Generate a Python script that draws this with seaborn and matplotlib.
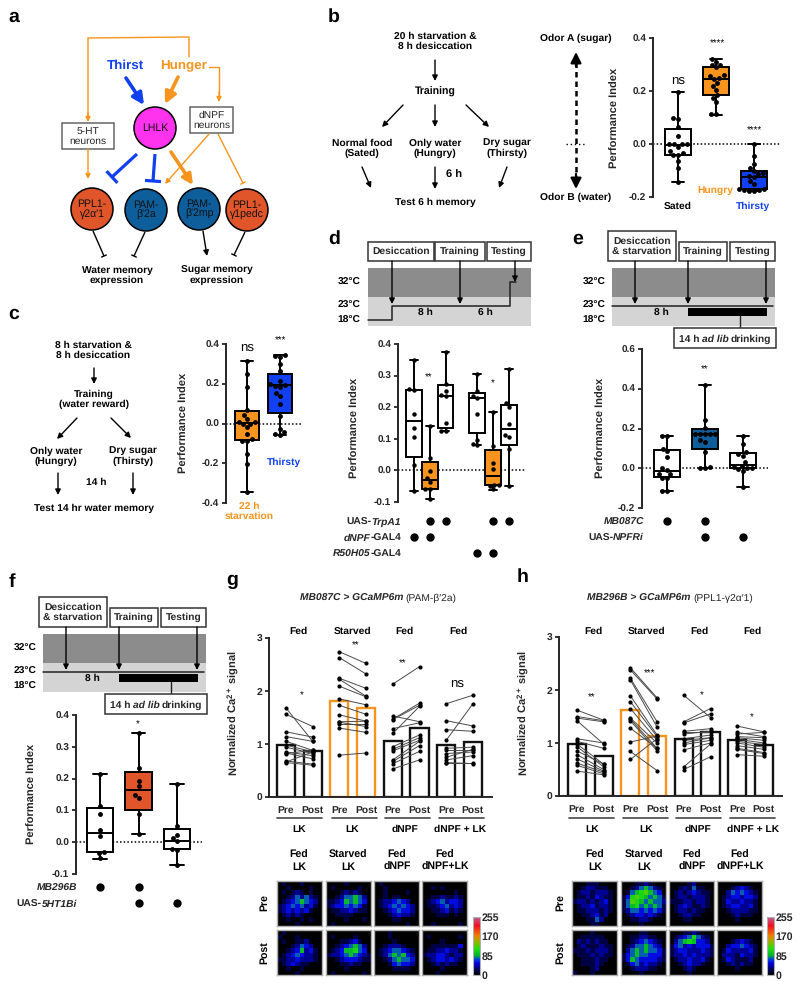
import warnings

import matplotlib.pyplot as plt
import numpy as np
import pandas as pd
import seaborn as sns
from matplotlib.cm import ScalarMappable
from matplotlib.colors import LinearSegmentedColormap, Normalize
from matplotlib.patches import Circle, Rectangle
from matplotlib.transforms import blended_transform_factory

warnings.simplefilter("ignore")

ORANGE = "#F7941D"
BLUE = "#1140F0"
DEEP = "#0F5E9C"
RED = "#E0562A"

# box panels: [min, q1, median, q3, max] and the single flies' points
b_groups = ["Sated", "Hungry", "Thirsty"]
b_boxes = [[-0.145, -0.04, -0.005, 0.055, 0.195], [0.11, 0.185, 0.245, 0.29, 0.32], [-0.178, -0.17, -0.125, -0.10, 0.0]]
b_points = [
    [0.195, 0.098, 0.095, 0.065, 0.03, 0.0, 0.0, 0.0, 0.0, -0.01, -0.025, -0.035, -0.04, -0.04, -0.065, -0.09, -0.145],
    [0.32, 0.31, 0.30, 0.30, 0.29, 0.26, 0.255, 0.25, 0.245, 0.23, 0.22, 0.205, 0.185, 0.175, 0.16, 0.113, 0.112],
    [0.0, -0.045, -0.075, -0.09, -0.10, -0.11, -0.115, -0.12, -0.125, -0.14, -0.15, -0.17, -0.17, -0.175, -0.175, -0.178, -0.178],
]
b_colors = ["white", ORANGE, BLUE]

c_groups = ["22 h", "Thirsty"]
c_boxes = [[-0.345, -0.085, 0.003, 0.062, 0.315], [-0.06, 0.055, 0.195, 0.25, 0.345]]
c_points = [
    [0.315, 0.25, 0.185, 0.07, 0.045, 0.025, 0.01, 0.01, 0.0, -0.005, -0.02, -0.055, -0.08, -0.09, -0.09, -0.155, -0.205, -0.345],
    [0.345, 0.34, 0.335, 0.30, 0.265, 0.215, 0.2, 0.195, 0.19, 0.185, 0.155, 0.14, 0.10, 0.04, -0.03, -0.045, -0.055, -0.06],
]
c_colors = [ORANGE, BLUE]

d_groups = ["d1", "d2", "d3", "gap", "d4", "d5", "d6"]
d_boxes = [
    [-0.065, 0.042, 0.157, 0.255, 0.35],
    [-0.092, -0.06, -0.03, 0.028, 0.14],
    [0.125, 0.133, 0.237, 0.27, 0.375],
    [0.08, 0.117, 0.228, 0.245, 0.305],
    [-0.062, -0.047, -0.018, 0.063, 0.185],
    [-0.05, 0.08, 0.13, 0.208, 0.322],
]
d_points = [
    [0.35, 0.258, 0.255, 0.18, 0.135, 0.107, 0.018, -0.065],
    [0.14, 0.04, -0.003, -0.025, -0.037, -0.06, -0.06, -0.092],
    [0.375, 0.275, 0.252, 0.24, 0.235, 0.15, 0.125, 0.125],
    [0.305, 0.25, 0.235, 0.23, 0.18, 0.095, 0.082, 0.08],
    [0.185, 0.078, 0.025, 0.005, -0.045, -0.045, -0.05, -0.06],
    [0.322, 0.212, 0.2, 0.147, 0.112, 0.105, 0.067, -0.05],
]
d_colors = ["white", ORANGE, "white", "white", ORANGE, "white"]
d_trpa1 = [0, 1, 1, 0, 0, 1, 1]
d_dnpf = [1, 1, 0, 0, 0, 0, 0]
d_r50 = [0, 0, 0, 0, 1, 1, 0]

e_groups = ["e1", "e2", "e3"]
e_boxes = [[-0.115, -0.045, -0.012, 0.09, 0.16], [0.0, 0.095, 0.17, 0.2, 0.42], [-0.095, 0.0, 0.018, 0.075, 0.16]]
e_points = [
    [0.16, 0.16, 0.097, 0.085, 0.058, 0.0, -0.01, -0.03, -0.03, -0.05, -0.05, -0.115, -0.115],
    [0.42, 0.245, 0.205, 0.17, 0.17, 0.17, 0.17, 0.17, 0.14, 0.13, 0.08, 0.005, 0.0, 0.0],
    [0.16, 0.123, 0.08, 0.07, 0.06, 0.03, 0.01, 0.005, 0.0, 0.0, -0.005, -0.015, -0.095],
]
e_colors = ["white", DEEP, "white"]
e_mb087c = [1, 1, 0]
e_npfri = [0, 1, 1]

f_groups = ["f1", "f2", "f3"]
f_boxes = [[-0.052, -0.03, 0.03, 0.107, 0.216], [0.027, 0.102, 0.163, 0.22, 0.343], [-0.072, -0.022, 0.005, 0.042, 0.183]]
f_points = [
    [0.216, 0.115, 0.09, 0.038, 0.02, -0.03, -0.035, -0.05],
    [0.343, 0.232, 0.192, 0.176, 0.15, 0.14, 0.088, 0.027],
    [0.183, 0.05, 0.023, 0.013, 0.005, -0.022, -0.025, -0.072],
]
f_colors = ["white", RED, "white"]
f_mb296b = [1, 1, 0]
f_5ht = [0, 1, 1]

# imaging panels: bar heights and paired pre/post values
bar_ticks = ["Pre", "Post"] * 4
g_bars = [0.99, 0.86, 1.82, 1.67, 1.05, 1.30, 0.98, 1.03]
g_lk_pre = [1.68, 1.56, 1.23, 1.14, 1.05, 0.98, 0.94, 0.85, 0.83, 0.82, 0.68, 0.66, 0.65]
g_lk_post = [1.05, 1.33, 1.13, 1.05, 0.88, 0.85, 0.82, 0.78, 0.72, 0.88, 0.62, 0.85, 0.60]
g_st_pre = [2.74, 2.63, 2.24, 2.22, 2.09, 1.85, 1.73, 1.55, 1.42, 1.41, 1.38, 1.30, 0.79]
g_st_post = [2.52, 2.32, 2.05, 1.90, 1.89, 1.74, 1.56, 1.43, 1.43, 1.33, 1.38, 1.22, 0.83]
g_np_pre = [2.13, 1.53, 1.47, 1.46, 1.29, 1.20, 0.95, 0.90, 0.87, 0.70, 0.67, 0.63, 0.53]
g_np_post = [2.46, 1.42, 1.77, 1.73, 1.40, 1.71, 1.17, 1.12, 1.07, 1.05, 0.97, 0.86, 0.70]
g_nl_pre = [1.76, 1.44, 1.27, 1.07, 0.92, 0.88, 0.82, 0.75, 0.70, 0.65, 0.65]
g_nl_post = [1.92, 1.34, 1.24, 1.76, 0.94, 0.88, 0.85, 0.90, 0.78, 0.65, 0.63]

h_bars = [0.98, 0.75, 1.62, 1.13, 1.07, 1.21, 1.06, 0.96]
h_lk_pre = [1.62, 1.50, 1.47, 1.42, 1.08, 1.03, 0.98, 0.93, 0.85, 0.78, 0.70, 0.62, 0.58, 0.47]
h_lk_post = [1.43, 1.42, 1.40, 0.98, 1.00, 0.90, 0.60, 0.55, 0.60, 0.50, 0.47, 0.45, 0.42, 0.40]
h_st_pre = [2.42, 2.38, 2.22, 2.19, 1.89, 1.78, 1.65, 1.47, 1.45, 1.42, 1.28, 1.02, 0.84, 0.69]
h_st_post = [1.85, 1.83, 1.40, 1.30, 1.15, 1.12, 1.05, 1.00, 0.90, 0.85, 0.90, 1.13, 0.48, 1.08]
h_np_pre = [1.90, 1.40, 1.38, 1.22, 1.20, 1.17, 1.08, 1.05, 1.00, 0.97, 0.87, 0.55, 0.50]
h_np_post = [1.48, 1.65, 1.55, 1.27, 1.20, 1.22, 1.15, 1.10, 1.10, 1.05, 1.00, 0.98, 0.74]
h_nl_pre = [1.32, 1.20, 1.17, 1.12, 1.10, 1.07, 1.03, 1.00, 0.95, 0.90, 0.88, 0.78]
h_nl_post = [1.21, 1.12, 1.20, 1.10, 1.05, 1.00, 0.97, 0.92, 0.88, 0.82, 0.80, 0.75]

# imaging thumbnails, coarse intensity read by eye, 0 (black) upwards
g_img_pre = [
    ["0100010000", "0010000100", "0101210100", "0012424210", "0123454320", "1234342310", "1232323100", "0121210000", "0010010100", "0000100000"],
    ["0000100000", "0100000100", "0001212100", "0012445420", "1123545430", "1233434310", "0112232110", "0011110000", "0000100010", "0100000000"],
    ["0100000000", "0010000000", "0010000100", "0010110000", "0122343200", "0123434320", "0012343320", "0001232210", "0000110000", "0000000100"],
    ["0000000000", "0010100000", "0000000100", "0011211210", "0123423320", "0112342320", "0011231210", "0001110100", "0000000000", "0010000010"],
]
g_img_post = [
    ["0100000000", "1000100000", "0100112000", "0001243200", "0012352310", "0123432210", "1122322210", "0123211000", "0010010000", "0000100000"],
    ["0000000000", "0100001000", "0001123100", "0012345420", "0123556430", "1223454321", "0012333211", "0001121100", "0000100000", "0100000010"],
    ["0001000000", "0001000000", "0000100000", "0012221000", "0123443210", "0124545320", "0012454430", "0001343320", "0000111100", "0000000000"],
    ["0000000000", "0100000010", "0000100000", "0011111130", "0112232210", "1223321220", "0123323210", "0012121100", "0000100000", "0001000000"],
]
h_img_pre = [
    ["0001110000", "0012211100", "0122122210", "0112132110", "1221212310", "0122312210", "0112221210", "0011231200", "0001142000", "0000110000"],
    ["0001121000", "0012454210", "0145675430", "1367654541", "1476545442", "1456454541", "1244343431", "0123323210", "0011221000", "0000100000"],
    ["0000120000", "0012141100", "0121232110", "0122122210", "1112212210", "0123211210", "0122121100", "0012211000", "0001100000", "0000000000"],
    ["0000000000", "0001232100", "0024343210", "0123323320", "0132232210", "0123322310", "0012222110", "0001211100", "0000100000", "0000000000"],
]
h_img_post = [
    ["0000100000", "0011111000", "0212121100", "0121112110", "1112122210", "0111212110", "0011121100", "0011121000", "0000120000", "1000100000"],
    ["0000110000", "0011221100", "0012343210", "0124454320", "0245454431", "1345443331", "1354333321", "0134232210", "0012221100", "0000100000"],
    ["0001121000", "0123464210", "0245653320", "1342323331", "1233222321", "1223232221", "0122322310", "0012322100", "0001210000", "0000100000"],
    ["0000000000", "0000000000", "0001232100", "0023343210", "0132222310", "0222132210", "0132111200", "0012121100", "0000100000", "0000000000"],
]
img_titles = ["Fed\nLK", "Starved\nLK", "Fed\ndNPF", "Fed\ndNPF+LK"]

sns.set_style("ticks")
plt.rcParams["font.family"] = ["Liberation Sans", "DejaVu Sans"]
plt.rcParams["font.weight"] = "bold"
plt.rcParams["axes.labelweight"] = "bold"
plt.rcParams["text.hinting"] = "no_hinting"
plt.rcParams["mathtext.fontset"] = "custom"
plt.rcParams["mathtext.rm"] = "Liberation Sans:bold"
plt.rcParams["mathtext.it"] = "Liberation Sans:italic:bold"
plt.rcParams["mathtext.bf"] = "Liberation Sans:bold"

W, H = 800, 990
fig = plt.figure(figsize=(W / 100, H / 100), dpi=100)
ov = fig.add_axes([0, 0, 1, 1], zorder=10)
ov.set_xlim(0, W)
ov.set_ylim(H, 0)
ov.axis("off")
ov.patch.set_alpha(0)
renderer = fig.canvas.get_renderer()


def ax_px(x0, y0, x1, y1):
    return fig.add_axes([x0 / W, 1 - y1 / H, (x1 - x0) / W, (y1 - y0) / H])


def txt(x, y, s, size=7.4, color="black", weight="bold", **kw):
    kw.setdefault("ha", "center")
    kw.setdefault("va", "center")
    return ov.text(x, y, s, fontsize=size, color=color, fontweight=weight, **kw)


def rich(x, y, parts, size=7.4, align="right", zorder=4):
    # one line out of several styled pieces: (text, style, weight, gap before)
    made = []
    total = 0
    for s, style, weight, gap in parts:
        t = ov.text(0, y + 3.5, s, fontsize=size, fontstyle=style, fontweight=weight, ha="left", va="baseline",
                    zorder=zorder)
        w = t.get_window_extent(renderer).width
        made.append((t, gap, w))
        total += gap + w
    cur = x - total if align == "right" else x - total / 2
    for t, gap, w in made:
        cur += gap
        t.set_x(cur)
        cur += w


def arrow(x0, y0, x1, y1, color="black", lw=1.0, scale=8):
    ov.annotate("", xy=(x1, y1), xytext=(x0, y0),
                arrowprops=dict(arrowstyle="-|>", color=color, lw=lw, mutation_scale=scale, shrinkA=0, shrinkB=0))


def tbar(x0, y0, x1, y1, half, color="black", lw=1.0):
    ov.plot([x0, x1], [y0, y1], color=color, lw=lw, solid_capstyle="butt")
    d = np.array([x1 - x0, y1 - y0], dtype=float)
    d = d / np.hypot(*d)
    ov.plot([x1 - d[1] * half, x1 + d[1] * half], [y1 + d[0] * half, y1 - d[0] * half],
            color=color, lw=lw, solid_capstyle="butt")


def box_label(x0, y0, x1, y1, s, size=7.4, weight="bold", ec="#333333", lw=1.1):
    ov.add_patch(Rectangle((x0, y0), x1 - x0, y1 - y0, fc="white", ec=ec, lw=lw, zorder=3))
    if s:
        ov.text((x0 + x1) / 2, (y0 + y1) / 2, s, fontsize=size, fontweight=weight, ha="center", va="center",
                zorder=4, linespacing=1.05)


def node(x, y, r, s, fc, color="#111111"):
    ov.add_patch(Circle((x, y), r, fc=fc, ec="black", lw=1.1, zorder=3))
    ov.text(x, y, s, fontsize=7.6, fontweight="normal", color=color, ha="center", va="center", zorder=4,
            linespacing=1.05)


def box_panel(pos, groups, boxes, points, colors, ylim, yticks, first, step, width, label, label_at,
              dot=3.5, dec=1):
    ax = ax_px(*pos)
    real = [g for g in groups if g != "gap"]
    box_df = pd.DataFrame([(g, v) for g, b in zip(real, boxes) for v in b], columns=["group", "value"])
    pts_df = pd.DataFrame([(g, v) for g, p in zip(real, points) for v in p], columns=["group", "value"])
    ax.axhline(0, color="black", ls=(0, (1, 1.4)), lw=1.1, zorder=0.5)
    sns.boxplot(data=box_df, x="group", y="value", order=groups, hue="group", palette=dict(zip(real, colors)),
                whis=(0, 100), width=width, linewidth=1.4, linecolor="black", fliersize=0, saturation=1,
                legend=False, ax=ax)
    sns.swarmplot(data=pts_df, x="group", y="value", order=groups, color="black", size=dot, ax=ax, zorder=5)
    ax.set_xlim((pos[0] - first) / step, (pos[2] - first) / step)
    ax.set_ylim(*ylim)
    ax.set_yticks(yticks, [f"{t:.{dec}f}" for t in yticks])
    ax.set_xticks([])
    ax.set_xlabel("")
    ax.patch.set_alpha(0)
    for side in ["top", "right", "bottom"]:
        ax.spines[side].set_visible(False)
    ax.spines["left"].set_linewidth(1.4)
    ax.tick_params(axis="y", labelsize=7.2, width=1.3, length=3, pad=2)
    ax.set_ylabel(label, fontsize=8, fontweight="bold")
    ax.yaxis.set_label_coords(label_at[0] + 5, label_at[1], transform=ov.transData)
    return ax


def geno_row(ax, flags, y, parts, right):
    trans = blended_transform_factory(ax.transData, ov.transData)
    xs = [i for i, f in enumerate(flags) if f]
    ax.scatter(xs, [y] * len(xs), s=36, color="black", transform=trans, clip_on=False, linewidths=0)
    rich(right, y, parts)


def bar_panel(pos, bars, pairs, first, step, ylabel_at):
    ax = ax_px(*pos)
    names = [f"{i}" for i in range(8)]
    pal = {n: (ORANGE if i in (2, 3) else "#111111") for i, n in enumerate(names)}
    sns.barplot(x=names, y=bars, hue=names, palette=pal, fill=False, width=0.68, linewidth=1.7, saturation=1,
                legend=False, ax=ax, err_kws={"linewidth": 0})
    rows = []
    uid = 0
    for k, (pre, post) in enumerate(pairs):
        for a, b in zip(pre, post):
            rows.append((uid, 2 * k, a))
            rows.append((uid, 2 * k + 1, b))
            uid += 1
    df = pd.DataFrame(rows, columns=["fly", "pos", "value"])
    sns.lineplot(data=df, x="pos", y="value", units="fly", estimator=None, color="#4a4a4a", lw=0.7, ax=ax)
    sns.scatterplot(data=df, x="pos", y="value", color="black", s=9, linewidth=0, ax=ax, zorder=4)
    ax.set_xlim((pos[0] - first) / step, (pos[2] - first) / step)
    ax.set_ylim(0, 3)
    ax.set_xticks(range(8), bar_ticks)
    ax.set_yticks([0, 1, 2, 3])
    ax.set_xlabel("")
    ax.patch.set_alpha(0)
    for side in ["top", "right"]:
        ax.spines[side].set_visible(False)
    ax.spines["left"].set_linewidth(1.4)
    ax.spines["bottom"].set_linewidth(1.4)
    ax.tick_params(axis="x", length=0, labelsize=7.4, pad=6)
    ax.tick_params(axis="y", labelsize=7.4, width=1.3, length=3, pad=2)
    ax.set_ylabel("Normalized Ca$^{2+}$ signal", fontsize=8, fontweight="bold")
    ax.yaxis.set_label_coords(ylabel_at[0] + 5, ylabel_at[1], transform=ov.transData)
    return ax


img_cmap = LinearSegmentedColormap.from_list(
    "calcium",
    [(0, "#000000"), (0.10, "#000060"), (0.2, "#0000e0"), (0.27, "#0040e0"), (0.33, "#00b030"), (0.45, "#20e010"),
     (0.58, "#a0b000"), (0.68, "#f08000"), (0.85, "#f01020"), (1, "#c06090")])


def images(cols, rows_y, pre, post, titles_x, row_x, bar_x):
    for r, (imgs, (y0, y1)) in enumerate(zip([pre, post], rows_y)):
        for c, (x0, x1) in enumerate(cols):
            ax = ax_px(x0, y0, x1, y1)
            arr = np.array([[int(ch) for ch in line] for line in imgs[c]])
            sns.heatmap(arr, ax=ax, cmap=img_cmap, vmin=0, vmax=14, cbar=False, xticklabels=False, yticklabels=False)
            for sp in ax.spines.values():
                sp.set_visible(True)
                sp.set_color("#b0b0b0")
                sp.set_linewidth(1)
    for x, s in zip(titles_x, img_titles):
        txt(x, 861, s, size=7.6, linespacing=1.15)
    txt(row_x, 903, "Pre", rotation=90, size=7.6)
    txt(row_x, 953, "Post", rotation=90, size=7.6)
    cax = ax_px(bar_x, 917, bar_x + 7, 975)
    cb = fig.colorbar(ScalarMappable(Normalize(0, 255), img_cmap), cax=cax, ticks=[0, 85, 170, 255])
    cb.outline.set_edgecolor("#b0b0b0")
    cax.tick_params(length=0, labelsize=7.6, pad=1)


# panel letters
for x, y, s in [(14, 17, "a"), (334, 17, "b"), (14, 314, "c"), (334, 239, "d"), (578, 239, "e"),
                (12, 582, "f"), (232, 580, "g"), (523, 577, "h")]:
    txt(x, y, s, size=14)

# a: circuit
ov.plot([189, 189, 88, 88], [57, 37, 38, 118], color=ORANGE, lw=1)
arrow(88, 112, 88, 122, ORANGE, 1, 7)
txt(125, 66, "Thirst", size=9.6, color=BLUE)
txt(184, 66, "Hunger", size=9.6, color=ORANGE)
arrow(126, 78, 144, 105, BLUE, 2.6, 17)
arrow(178, 77, 165, 104, ORANGE, 2.6, 17)
ov.plot([209, 219, 219], [67, 67, 95], color=ORANGE, lw=1)
arrow(219, 92, 219, 102, ORANGE, 1, 7)
box_label(62, 123, 114, 149, "5-HT\nneurons", weight="normal", ec="#666666")
box_label(190, 107, 233, 133, "dNPF\nneurons", weight="normal", ec="#666666")
node(155, 128, 21, "LHLK", "#FF33EE")
arrow(88, 149, 88, 179, ORANGE, 1, 7)
tbar(137, 154, 112, 177, 8, BLUE, 2.3)
tbar(155, 154, 153, 181, 8, BLUE, 2.3)
arrow(171, 152, 193, 185, ORANGE, 2.6, 15)
arrow(209, 134, 165, 184, ORANGE, 1, 7)
tbar(218, 134, 243, 183, 3, ORANGE, 1)
node(92, 209, 21, "PPL1-\nγ2α′1", RED)
node(146, 210, 21, "PAM-\nβ′2a", DEEP)
node(199, 209, 21, "PAM-\nβ′2mp", DEEP)
node(247, 210, 21, "PPL1-\nγ1pedc", RED)
tbar(93, 231, 104, 256, 3)
tbar(145, 232, 134, 256, 3)
arrow(203, 231, 207, 256, "black", 1, 8)
tbar(245, 232, 234, 255, 3)
txt(117, 275, "Water memory\nexpression", linespacing=1.1)
txt(217, 275, "Sugar memory\nexpression", linespacing=1.1)

# b: protocol and plot
txt(435, 41, "20 h starvation &\n8 h desiccation", linespacing=1.05)
arrow(435, 60, 435, 81)
txt(435, 92, "Training", size=7.6)
arrow(403, 105, 382, 127)
arrow(435, 105, 435, 127)
arrow(466, 105, 489, 127)
for x, s in [(362, "Normal food\n(Sated)"), (435, "Only water\n(Hungry)"), (507, "Dry sugar\n(Thirsty)")]:
    txt(x, 148, s, linespacing=1.1)
arrow(362, 167, 371, 188)
arrow(435, 167, 435, 189)
arrow(507, 167, 499, 188)
txt(454, 175, "6 h", size=8)
txt(435, 202, "Test 6 h memory")
txt(576, 38, "Odor A (sugar)")
txt(576, 197, "Odor B (water)")
ov.plot([576, 576], [62, 178], color="black", lw=1.8, ls=(0, (2.2, 1.6)))
arrow(576, 66, 576, 52, "black", 1.6, 16)
arrow(576, 174, 576, 189, "black", 1.6, 16)
ov.plot([566, 586], [144, 144], color="black", lw=1, ls=(0, (1, 2)))
box_panel((653, 38, 780, 197), b_groups, b_boxes, b_points, b_colors, (-0.2, 0.4), [-0.2, 0, 0.2, 0.4],
          678, 38, 0.68, "Performance Index", (615, 118))
txt(678, 206, "Sated")
txt(715, 191, "Hungry", color=ORANGE)
txt(753, 206, "Thirsty", color=BLUE)
txt(678, 81, "ns", size=9.5, weight="normal")
txt(717, 44, "****", size=7, weight="normal")
txt(754, 131, "****", size=7, weight="normal")

# c: protocol and plot
txt(93, 350, "8 h starvation &\n8 h desiccation", linespacing=1.05)
arrow(94, 368, 94, 384)
txt(94, 399, "Training\n(water reward)", linespacing=1.05)
arrow(77, 418, 57, 439)
arrow(111, 418, 131, 438)
txt(56, 456, "Only water\n(Hungry)", linespacing=1.1)
txt(133, 456, "Dry sugar\n(Thirsty)", linespacing=1.1)
arrow(58, 473, 58, 495)
arrow(133, 473, 133, 495)
txt(96, 482, "14 h")
txt(94, 508, "Test 14 hr water memory")
box_panel((226, 344, 302, 503), c_groups, c_boxes, c_points, c_colors, (-0.4, 0.4), [-0.4, -0.2, 0, 0.2, 0.4],
          247, 33, 0.7, "Performance Index", (184, 423))
txt(247, 348, "ns", size=9.5, weight="normal")
txt(281, 341, "***", size=7, weight="normal")
txt(284, 462, "Thirsty", color=BLUE)
txt(249, 511, "22 h\nstarvation", color=ORANGE, linespacing=1.05)

# d: protocol and plot
ov.add_patch(Rectangle((368, 268), 163, 29, fc="#8c8c8c", ec="none"))
ov.add_patch(Rectangle((368, 297), 163, 29, fc="#d4d4d4", ec="none"))
box_label(368, 242, 434, 261, "Desiccation")
box_label(435, 242, 485, 261, "Training")
box_label(487, 242, 531, 261, "Testing")
ov.plot([368, 392, 392, 510, 510, 516], [320, 320, 306, 306, 282, 282], color="#222222", lw=1.1)
arrow(392, 261, 392, 304)
arrow(460, 261, 460, 304)
arrow(515, 261, 515, 282)
for y, s in [(282, "32°C"), (305, "23°C"), (320, "18°C")]:
    txt(349, y, s)
txt(425, 312, "8 h")
txt(485, 312, "6 h")
ax_d = box_panel((398, 344, 525, 502), d_groups, d_boxes, d_points, d_colors, (-0.1, 0.4),
                 [-0.1, 0, 0.1, 0.2, 0.3, 0.4], 414, 15.8, 0.98, "Performance Index", (355, 428), dot=3.2)
txt(429, 378, "**", size=7, weight="normal")
txt(493, 384, "*", size=7, weight="normal")
geno_row(ax_d, d_trpa1, 521, [("UAS-", "normal", "bold", 0), ("TrpA1", "italic", "bold", 0)], 401)
geno_row(ax_d, d_dnpf, 537, [("dNPF", "italic", "bold", 0), ("-GAL4", "normal", "bold", 0)], 401)
geno_row(ax_d, d_r50, 553, [("R50H05", "italic", "bold", 0), ("-GAL4", "normal", "bold", 0)], 401)


def ad_lib_timeline(dx, dy):
    ov.add_patch(Rectangle((612 + dx, 268 + dy), 163, 29, fc="#8c8c8c", ec="none"))
    ov.add_patch(Rectangle((612 + dx, 297 + dy), 163, 29, fc="#d4d4d4", ec="none"))
    box_label(608 + dx, 231 + dy, 676 + dx, 261 + dy, "Desiccation\n& starvation")
    box_label(679 + dx, 242 + dy, 727 + dx, 261 + dy, "Training")
    box_label(730 + dx, 242 + dy, 775 + dx, 261 + dy, "Testing")
    ov.plot([612 + dx, 773 + dx], [306 + dy, 306 + dy], color="#222222", lw=1.1)
    for x in [635, 688, 766]:
        arrow(x + dx, 261 + dy, x + dx, 304 + dy)
    ov.add_patch(Rectangle((688 + dx, 308 + dy), 79, 8, fc="black", ec="none"))
    ov.plot([740 + dx, 740 + dx], [316 + dy, 329 + dy], color="#222222", lw=1)
    box_label(674 + dx, 328 + dy, 776 + dx, 348 + dy, "")
    rich(725 + dx, 338 + dy, [("14 h", "normal", "bold", 0), ("ad lib", "italic", "bold", 2.5),
                              ("drinking", "normal", "bold", 2.5)], align="center")
    for y, s in [(282, "32°C"), (305, "23°C"), (320, "18°C")]:
        txt(594 + dx, y + dy, s)
    txt(661 + dx, 312 + dy, "8 h")


# e
ad_lib_timeline(0, 0)
ax_e = box_panel((642, 349, 768, 508), e_groups, e_boxes, e_points, e_colors, (-0.2, 0.6),
                 [-0.2, 0, 0.2, 0.4, 0.6], 667, 38, 0.68, "Performance Index", (601, 428))
txt(705, 370, "**", size=7, weight="normal")
geno_row(ax_e, e_mb087c, 521, [("MB087C", "italic", "bold", 0)], 644)
geno_row(ax_e, e_npfri, 537, [("UAS-", "normal", "bold", 0), ("NPFRi", "italic", "bold", 0)], 644)

# f
ad_lib_timeline(-569, 366)
ax_f = box_panel((76, 715, 202, 874), f_groups, f_boxes, f_points, f_colors, (-0.1, 0.4),
                 [-0.1, 0, 0.1, 0.2, 0.3, 0.4], 100, 38.5, 0.68, "Performance Index", (32, 794))
txt(138, 725, "*", size=7, weight="normal")
geno_row(ax_f, f_mb296b, 887, [("MB296B", "italic", "bold", 0)], 77)
geno_row(ax_f, f_5ht, 903, [("UAS-", "normal", "bold", 0), ("5HT1Bi", "italic", "bold", 0)], 77)

# g
rich(378, 597, [("MB087C > GCaMP6m", "italic", "bold", 0), ("(PAM-β′2a)", "normal", "normal", 2.5)],
     size=7.4, align="center")
bar_panel((269, 638, 492, 797), g_bars,
          [(g_lk_pre, g_lk_post), (g_st_pre, g_st_post), (g_np_pre, g_np_post), (g_nl_pre, g_nl_post)],
          286, 26.7, (237, 713))
for x, s in zip([298, 353, 404, 458], ["Fed", "Starved", "Fed", "Fed"]):
    txt(x, 631, s)
for x, y, s in [(302, 696, "*"), (356, 646, "**"), (403, 664, "**")]:
    txt(x, y, s, size=7, weight="normal")
txt(457, 684, "ns", size=9.5, weight="normal")
for (x0, x1), cx, s in zip([(277, 322), (332, 377), (385, 430), (439, 484)], [299, 352, 405, 460],
                           ["LK", "LK", "dNPF", "dNPF + LK"]):
    ov.plot([x0, x1], [818, 818], color="#555555", lw=1.3)
    txt(cx, 829, s)
images([(277, 322), (326, 371), (374, 419), (422, 467)], [(881, 926), (930, 975)], g_img_pre, g_img_post,
       [299, 348, 397, 445], 264, 473)

# h
rich(670, 597, [("MB296B > GCaMP6m", "italic", "bold", 0), ("(PPL1-γ2α′1)", "normal", "normal", 2.5)],
     size=7.4, align="center")
bar_panel((559, 637, 782, 796), h_bars,
          [(h_lk_pre, h_lk_post), (h_st_pre, h_st_post), (h_np_pre, h_np_post), (h_nl_pre, h_nl_post)],
          577, 26.7, (527, 713))
for x, s in zip([593, 647, 699, 752], ["Fed", "Starved", "Fed", "Fed"]):
    txt(x, 631, s)
for x, y, s in [(592, 698, "**"), (650, 674, "***"), (702, 696, "*"), (752, 718, "*")]:
    txt(x, y, s, size=7, weight="normal")
for (x0, x1), cx, s in zip([(569, 614), (623, 668), (676, 721), (730, 775)], [592, 646, 698, 753],
                           ["LK", "LK", "dNPF", "dNPF + LK"]):
    ov.plot([x0, x1], [818, 818], color="#555555", lw=1.3)
    txt(cx, 829, s)
images([(572, 617), (621, 666), (669, 714), (717, 762)], [(881, 926), (930, 975)], h_img_pre, h_img_post,
       [595, 644, 692, 740], 560, 767)

ov.set_xlim(0, W)
ov.set_ylim(H, 0)
fig.savefig("out.png", dpi=100)
